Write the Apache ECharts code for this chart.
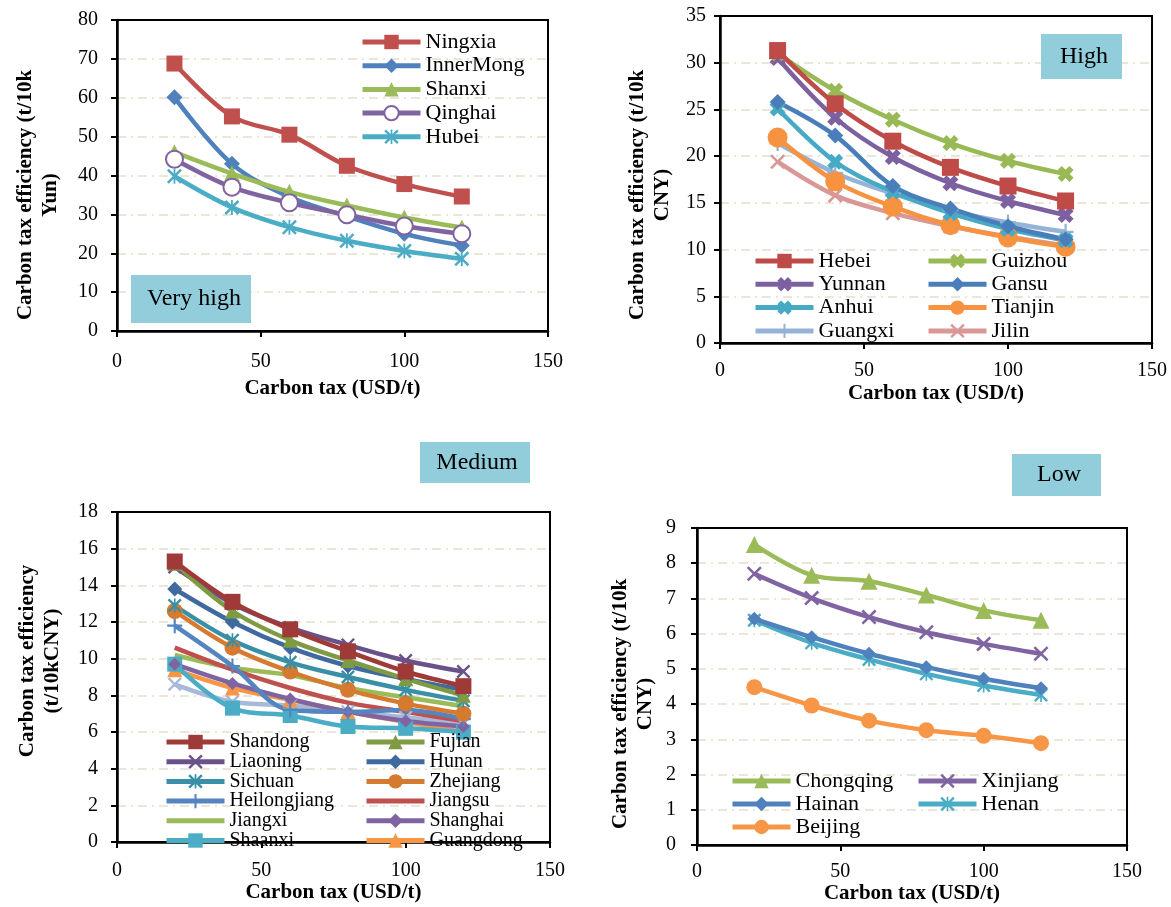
<!DOCTYPE html>
<html>
<head>
<meta charset="utf-8">
<script src="https://cdn.jsdelivr.net/npm/echarts@6/dist/echarts.min.js"></script>
<style>
  html, body { margin: 0; padding: 0; background: #fff; }
  #main { width: 1171px; height: 907px; }
</style>
</head>
<body>
<div id="main"></div>
<script>
// carbon tax levels (USD/t)
const taxLevels = [20, 40, 60, 80, 100, 120]

// Very high
const ningxia = [68.8, 55.2, 50.5, 42.5, 37.8, 34.6]
const innerMong = [60.1, 43.0, 34.5, 29.5, 25.0, 22.0]
const shanxi = [46.0, 40.5, 35.8, 32.3, 29.2, 26.6]
const qinghai = [44.2, 37.0, 33.0, 29.9, 27.0, 25.0]
const hubei = [39.8, 31.8, 26.7, 23.2, 20.6, 18.6]

// High
const hebei = [31.3, 25.6, 21.6, 18.8, 16.8, 15.2]
const guizhou = [31.0, 27.0, 23.9, 21.4, 19.5, 18.1]
const yunnan = [30.5, 24.1, 19.9, 17.1, 15.2, 13.7]
const gansu = [25.8, 22.2, 16.8, 14.4, 12.5, 11.1]
const anhui = [25.1, 19.4, 16.2, 13.9, 12.2, 11.0]
const tianjin = [22.0, 17.3, 14.6, 12.6, 11.3, 10.3]
const guangxi = [21.4, 18.2, 16.0, 14.2, 12.9, 11.9]
const jilin = [19.4, 15.8, 13.9, 12.5, 11.4, 10.4]

// Medium
const shandong = [15.3, 13.1, 11.6, 10.4, 9.3, 8.5]
const fujian = [15.2, 12.6, 11.0, 9.9, 8.9, 8.0]
const liaoning = [15.0, 13.0, 11.7, 10.75, 9.9, 9.3]
const hunan = [13.8, 12.0, 10.6, 9.6, 8.9, 8.3]
const sichuan = [12.9, 11.0, 9.8, 9.0, 8.3, 7.7]
const zhejiang = [12.6, 10.6, 9.3, 8.3, 7.55, 7.0]
const heilongjiang = [11.8, 9.6, 7.2, 7.1, 7.2, 6.7]
const jiangsu = [10.6, 9.4, 8.4, 7.6, 7.1, 6.6]
const jiangxi = [10.2, 9.5, 9.1, 8.4, 7.9, 7.4]
const shanghai = [9.7, 8.65, 7.8, 7.1, 6.6, 6.3]
const shaanxi = [9.7, 7.3, 6.9, 6.3, 6.2, 6.0]
const guangdong = [9.4, 8.4, 7.75, 7.1, 6.55, 6.0]
const medExtra = [8.6, 7.65, 7.45, 7.1, 6.8, 6.45]

// Low
const chongqing = [8.53, 7.66, 7.49, 7.1, 6.66, 6.38]
const xinjiang = [7.7, 7.01, 6.47, 6.04, 5.71, 5.43]
const hainan = [6.42, 5.9, 5.43, 5.05, 4.72, 4.45]
const henan = [6.38, 5.74, 5.27, 4.86, 4.53, 4.26]
const beijing = [4.48, 3.96, 3.53, 3.26, 3.1, 2.89]

// marker shapes
const SYM = {
  x: 'path://M0,1.2L1.2,0L5,3.8L8.8,0L10,1.2L6.2,5L10,8.8L8.8,10L5,6.2L1.2,10L0,8.8L3.8,5Z',
  bigX: 'path://M0,2.6L2.6,0L5,2.4L7.4,0L10,2.6L7.6,5L10,7.4L7.4,10L5,7.6L2.6,10L0,7.4L2.4,5Z',
  plus: 'path://M4.3,0H5.7V4.3H10V5.7H5.7V10H4.3V5.7H0V4.3H4.3Z',
  star: 'path://M0,1.2L1.2,0L5,3.8L8.8,0L10,1.2L6.2,5L10,8.8L8.8,10L5,6.2L1.2,10L0,8.8L3.8,5Z M4.4,0H5.6V10H4.4Z'
}

const SERIF = 'Liberation Serif'

function line(name, values, color, symbol, size, idx) {
  return {
    name: name,
    type: 'line',
    xAxisIndex: idx,
    yAxisIndex: idx,
    data: taxLevels.map((t, i) => [t, values[i]]),
    smooth: 0.35,
    symbol: symbol,
    symbolSize: size,
    showSymbol: symbol !== 'none',
    lineStyle: { color: color, width: 4.5 },
    itemStyle: { color: color, borderWidth: symbol === 'emptyCircle' ? 3.5 : 0 },
    emphasis: { disabled: true },
    animation: false
  }
}

const seriesList = [
  line('Ningxia', ningxia, '#C0504D', 'rect', 16, 0),
  line('InnerMong', innerMong, '#4F81BD', 'diamond', 16, 0),
  line('Shanxi', shanxi, '#9BBB59', 'triangle', 16, 0),
  line('Qinghai', qinghai, '#8064A2', 'emptyCircle', 17, 0),
  line('Hubei', hubei, '#4BACC6', SYM.star, 15, 0),

  line('Jilin', jilin, '#D99795', SYM.x, 15, 1),
  line('Guangxi', guangxi, '#95B3D7', SYM.plus, 16, 1),
  line('Tianjin', tianjin, '#F69240', 'circle', 20, 1),
  line('Anhui', anhui, '#46AAC5', SYM.bigX, 16, 1),
  line('Gansu', gansu, '#4A7EBB', 'diamond', 16, 1),
  line('Yunnan', yunnan, '#7D60A0', SYM.bigX, 16, 1),
  line('Guizhou', guizhou, '#98B954', SYM.bigX, 16, 1),
  line('Hebei', hebei, '#BE4B48', 'rect', 17, 1),

  line('Other', medExtra, '#A7B9D9', SYM.x, 14, 2),
  line('Guangdong', guangdong, '#F79646', 'triangle', 15, 2),
  line('Shaanxi', shaanxi, '#4BACC6', 'rect', 15, 2),
  line('Shanghai', shanghai, '#8064A2', 'diamond', 13, 2),
  line('Jiangxi', jiangxi, '#9BBB59', 'none', 0, 2),
  line('Jiangsu', jiangsu, '#C0504D', 'none', 0, 2),
  line('Heilongjiang', heilongjiang, '#5585C0', SYM.plus, 15, 2),
  line('Zhejiang', zhejiang, '#D57A2F', 'circle', 16, 2),
  line('Sichuan', sichuan, '#388FA6', SYM.star, 14, 2),
  line('Hunan', hunan, '#3E6A9F', 'diamond', 15, 2),
  line('Liaoning', liaoning, '#6A5189', SYM.x, 14, 2),
  line('Fujian', fujian, '#7E9A43', 'triangle', 15, 2),
  line('Shandong', shandong, '#9E3B38', 'rect', 16, 2),

  line('Beijing', beijing, '#F79646', 'circle', 16, 3),
  line('Henan', henan, '#4BACC6', SYM.star, 14, 3),
  line('Hainan', hainan, '#4F81BD', 'diamond', 14, 3),
  line('Xinjiang', xinjiang, '#8064A2', SYM.x, 15, 3),
  line('Chongqing', chongqing, '#9BBB59', 'triangle', 17, 3)
]

const grids = [
  { left: 117, top: 20, width: 431, height: 311 },
  { left: 720, top: 16, width: 432, height: 327 },
  { left: 117, top: 512, width: 433, height: 330 },
  { left: 697, top: 528, width: 430, height: 317 }
].map(g => Object.assign(g, { show: true, borderColor: '#000', borderWidth: 2, containLabel: false }))

const yRanges = [[80, 10, 19], [35, 5, 14], [18, 2, 19], [9, 1, 21]]
const xLabelMargin = [21, 18, 19, 17]
const xNameGap = [47, 40, 40, 37]

const xAxes = grids.map((g, i) => ({
  type: 'value',
  gridIndex: i,
  min: 0,
  max: 150,
  interval: 50,
  name: 'Carbon tax (USD/t)',
  nameLocation: 'middle',
  nameGap: xNameGap[i],
  nameTextStyle: { fontFamily: SERIF, fontWeight: 'bold', fontSize: 21, color: '#000' },
  axisLine: { show: true, onZero: false, lineStyle: { color: '#000', width: 2.5 } },
  axisTick: { show: true, length: 6, lineStyle: { color: '#000', width: 2 } },
  axisLabel: { fontFamily: SERIF, fontSize: 20, color: '#000', margin: xLabelMargin[i] },
  splitLine: { show: false }
}))

const yAxes = grids.map((g, i) => ({
  type: 'value',
  gridIndex: i,
  min: 0,
  max: yRanges[i][0],
  interval: yRanges[i][1],
  axisLine: { show: true, lineStyle: { color: '#000', width: 2.5 } },
  axisTick: { show: true, length: 6, lineStyle: { color: '#000', width: 2 } },
  axisLabel: { fontFamily: SERIF, fontSize: 20, color: '#000', margin: yRanges[i][2] },
  splitLine: {
    show: true, showMinLine: false, showMaxLine: false,
    lineStyle: { color: '#E3DECB', width: 1.5, type: [9, 5, 2, 5] }
  }
}))

function legend(names, left, top, gap, size) {
  return {
    data: names.map(n => (n === 'Jiangsu' || n === 'Jiangxi') ? { name: n, itemStyle: { opacity: 0 } } : n),
    orient: 'vertical',
    left: left,
    top: top,
    padding: 0,
    itemWidth: 58,
    itemHeight: 18,
    itemGap: gap,
    selectedMode: false,
    lineStyle: { width: 5 },
    textStyle: { fontFamily: SERIF, fontSize: size, color: '#000' }
  }
}

const legends = [
  legend(['Ningxia', 'InnerMong', 'Shanxi', 'Qinghai', 'Hubei'], 360, 31, 1.7, 22),
  legend(['Hebei', 'Yunnan', 'Anhui', 'Guangxi'], 753, 250, 1.3, 22),
  legend(['Guizhou', 'Gansu', 'Tianjin', 'Jilin'], 926, 250, 1.3, 22),
  legend(['Shandong', 'Liaoning', 'Sichuan', 'Heilongjiang', 'Jiangxi', 'Shaanxi'], 164, 732, -0.3, 20),
  legend(['Fujian', 'Hunan', 'Zhejiang', 'Jiangsu', 'Shanghai', 'Guangdong'], 364, 732, -0.3, 20),
  legend(['Chongqing', 'Hainan', 'Beijing'], 730, 770, 1, 22),
  legend(['Xinjiang', 'Henan'], 916, 770, 1, 22)
]

function yName(text, x, y) {
  return {
    type: 'text', x: x, y: y, rotation: Math.PI / 2, z: 10,
    style: { text: text, fontFamily: SERIF, fontWeight: 'bold', fontSize: 21, lineHeight: 25, fill: '#000', align: 'center', verticalAlign: 'middle' }
  }
}

function tagBox(text, x, y, w, h, tx) {
  return [
    { type: 'rect', shape: { x: x, y: y, width: w, height: h }, style: { fill: '#92CDDC' }, z: 5 },
    { type: 'text', x: tx, y: y + h / 2, z: 6, style: { text: text, fontFamily: SERIF, fontSize: 24, fill: '#000', align: 'center', verticalAlign: 'middle' } }
  ]
}

const graphics = [
  yName('Carbon tax efficiency (t/10k\nYun)', 38, 195),
  yName('Carbon tax efficiency (t/10k\nCNY)', 650, 195),
  yName('Carbon tax efficiency\n(t/10kCNY)', 40, 661),
  yName('Carbon tax efficiency (t/10k\nCNY)', 633, 704)
].concat(
  tagBox('Very high', 131, 275, 120, 48, 194),
  tagBox('High', 1041, 34, 81, 45, 1084),
  tagBox('Medium', 420, 442, 110, 41, 477),
  tagBox('Low', 1012, 454, 89, 42, 1059)
)

const chart = echarts.init(document.getElementById('main'))
chart.setOption({
  animation: false,
  backgroundColor: '#fff',
  grid: grids,
  xAxis: xAxes,
  yAxis: yAxes,
  legend: legends,
  graphic: graphics,
  series: seriesList
})
</script>
</body>
</html>
